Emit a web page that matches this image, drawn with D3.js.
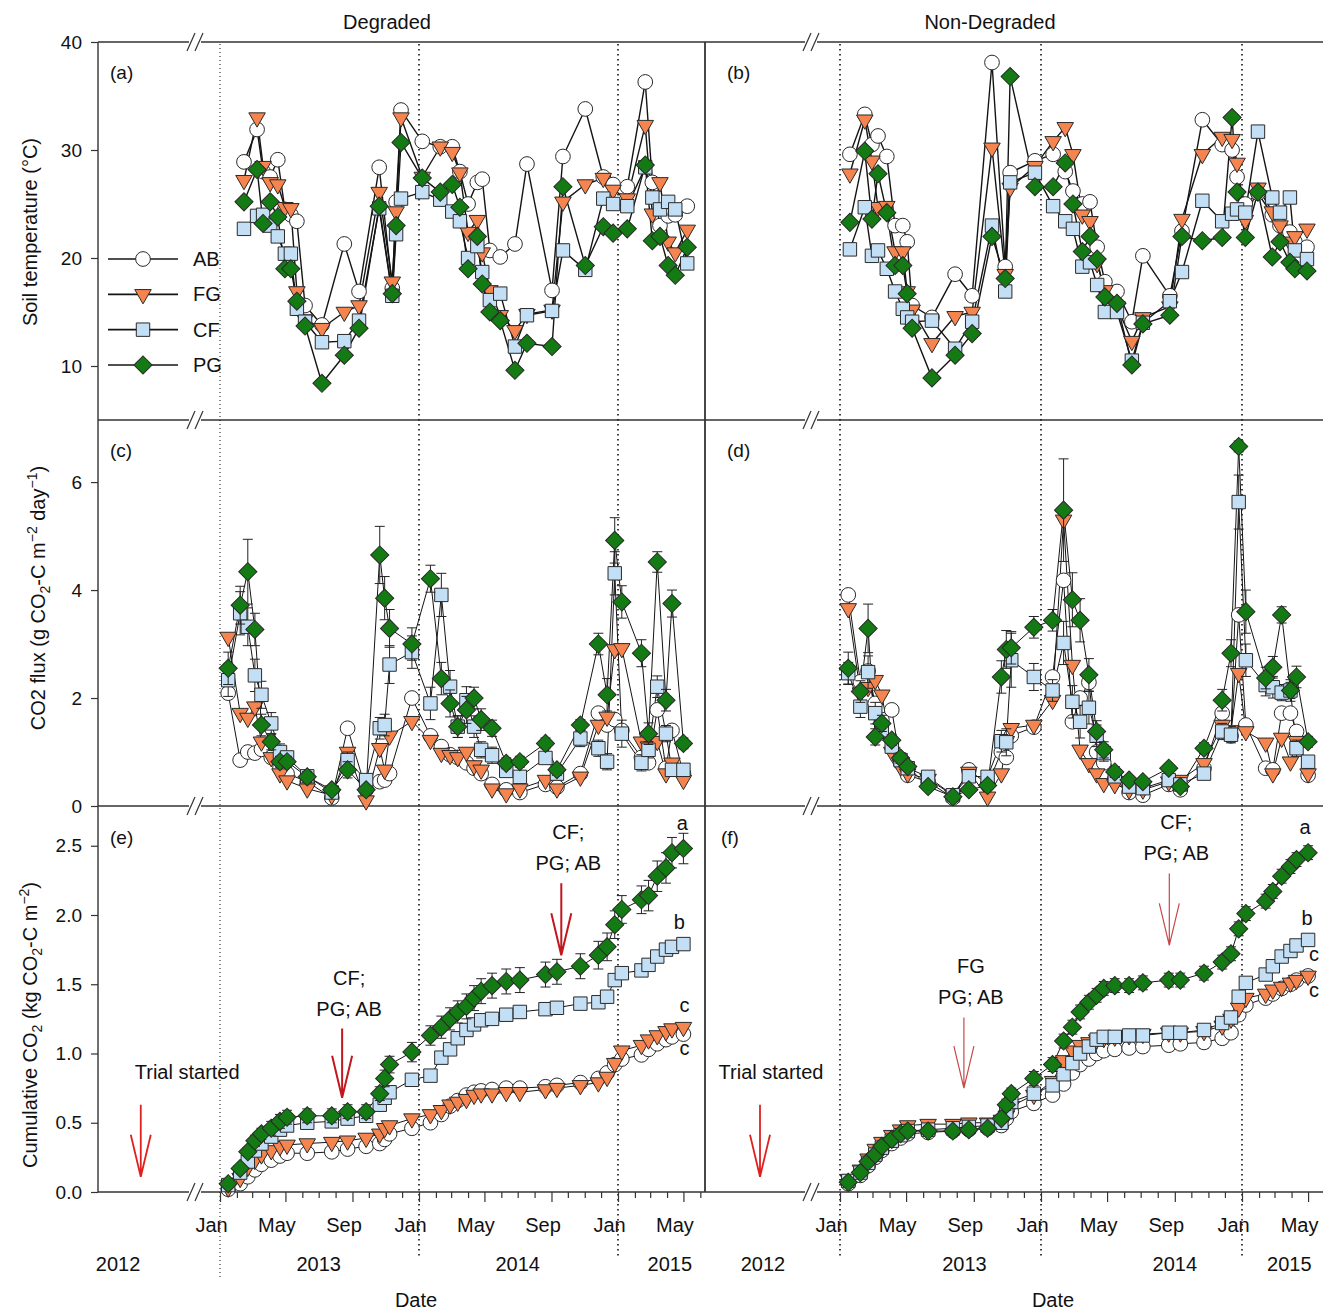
<!DOCTYPE html>
<html>
<head>
<meta charset="utf-8">
<script src="https://cdn.jsdelivr.net/npm/d3@7/dist/d3.min.js"></script>
<style>
html,body{margin:0;padding:0;background:#fff;}
svg text{font-family:"Liberation Sans",Arial,Helvetica,sans-serif;fill:#111;}
</style>
</head>
<body>
<svg id="chart" width="1323" height="1312"></svg>
<script>
// ---------------- DATA ----------------
const treatments = ["AB","FG","CF","PG"];

// Soil temperature sampling dates
const tempDatesDeg = ["2013-02-14","2013-03-10","2013-03-21","2013-04-03","2013-04-17","2013-04-30","2013-05-11","2013-05-22","2013-06-06","2013-07-07","2013-08-17","2013-09-13","2013-10-20","2013-11-13","2013-11-20","2013-11-29","2014-01-07","2014-02-09","2014-03-03","2014-03-17","2014-04-01","2014-04-18","2014-04-27","2014-05-11","2014-05-30","2014-06-26","2014-07-18","2014-09-02","2014-09-22","2014-11-02","2014-12-05","2014-12-23","2015-01-18","2015-02-20","2015-03-05","2015-03-19","2015-04-03","2015-04-16","2015-05-08"];
const tempDatesNon = ["2013-01-19","2013-02-15","2013-02-28","2013-03-11","2013-03-27","2013-04-11","2013-04-25","2013-05-03","2013-05-12","2013-06-17","2013-07-29","2013-08-29","2013-10-04","2013-10-28","2013-11-06","2013-12-21","2014-01-23","2014-02-14","2014-02-28","2014-03-17","2014-03-31","2014-04-13","2014-04-27","2014-05-19","2014-06-15","2014-07-05","2014-08-23","2014-09-14","2014-10-21","2014-11-26","2014-12-14","2014-12-23","2015-01-07","2015-01-30","2015-02-25","2015-03-11","2015-03-29","2015-04-07","2015-04-29"];
// CO2 flux / cumulative sampling dates
const fluxDates = ["2013-01-16","2013-02-07","2013-02-21","2013-03-06","2013-03-18","2013-04-05","2013-04-21","2013-05-04","2013-06-10","2013-07-25","2013-08-23","2013-09-26","2013-10-21","2013-10-30","2013-11-08","2013-12-19","2014-01-22","2014-02-11","2014-02-27","2014-03-13","2014-03-29","2014-04-12","2014-04-25","2014-05-15","2014-06-10","2014-07-05","2014-08-21","2014-09-11","2014-10-24","2014-11-26","2014-12-12","2014-12-26","2015-01-08","2015-02-13","2015-02-26","2015-03-14","2015-03-30","2015-04-10","2015-05-01"];

// (a) Soil temperature, Degraded (°C)
const tempDeg_AB = [28.9,31.9,28.0,27.5,29.1,24.5,24.0,23.4,15.6,13.8,21.3,16.9,28.4,17.2,25.2,33.7,30.8,30.3,30.3,28.0,25.0,27.0,27.3,20.7,20.1,21.3,28.7,17.0,29.4,33.8,27.5,26.8,26.6,36.3,27.0,23.0,23.9,24.0,24.8];
const tempDeg_FG = [27.2,33.0,28.5,27.0,26.8,24.7,24.6,16.9,14.3,13.5,15.0,15.6,26.1,17.8,24.3,33.0,27.5,30.3,29.8,27.9,22.4,23.5,20.5,17.0,14.7,13.3,14.8,15.2,25.2,26.8,27.4,26.3,25.5,32.3,24.1,27.0,21.5,20.5,22.6];
const tempDeg_CF = [22.7,23.9,24.0,23.0,22.0,20.4,20.4,15.3,14.1,12.2,12.3,14.2,24.6,16.5,22.2,25.5,26.1,25.4,24.3,23.4,20.0,21.1,18.7,16.1,16.7,11.8,14.7,15.1,20.7,18.9,25.5,25.0,24.8,28.4,25.6,24.5,25.2,24.5,19.5];
const tempDeg_PG = [25.2,28.2,23.2,25.2,23.8,19.0,19.0,16.0,13.7,8.4,11.0,13.5,24.8,16.7,23.0,30.7,27.4,26.1,26.8,24.7,19.0,22.0,17.6,15.0,14.2,9.6,12.1,11.8,26.6,19.3,22.9,22.3,22.7,28.6,21.6,22.0,19.3,18.4,21.0];

// (b) Soil temperature, Non-Degraded (°C)
const tempNon_AB = [29.6,33.3,30.5,31.3,29.4,23.0,23.0,21.5,15.6,14.5,18.5,16.5,38.1,19.2,27.9,29.0,29.6,28.0,26.2,25.0,25.2,21.0,17.8,16.9,14.1,20.2,16.5,22.5,32.8,30.5,30.0,27.5,25.0,26.0,24.0,23.0,22.4,21.5,21.0];
const tempNon_FG = [27.8,32.8,29.0,24.7,24.8,20.6,20.6,16.9,15.2,12.1,14.6,15.0,30.2,18.5,26.5,28.5,30.8,32.1,29.6,24.0,23.4,19.5,17.0,15.5,12.3,14.5,15.5,23.6,29.6,31.2,31.0,28.8,23.5,26.5,24.3,23.0,21.5,22.0,22.7];
const tempNon_CF = [20.8,24.7,20.2,20.7,19.0,16.9,15.3,14.5,14.1,14.2,11.6,14.1,23.0,16.9,27.0,27.9,24.8,23.4,22.7,19.2,19.6,17.5,15.0,15.0,10.5,14.0,16.0,18.7,25.3,23.4,24.1,24.5,24.2,31.7,25.6,24.2,25.6,20.7,19.9];
const tempNon_PG = [23.3,29.9,23.6,27.8,24.2,19.3,19.3,16.7,13.5,8.9,11.0,13.0,22.0,18.1,36.8,26.6,26.6,28.8,25.0,20.6,22.0,19.9,16.4,15.8,10.1,13.9,14.7,22.0,21.6,21.9,33.0,26.1,21.9,26.1,20.1,21.5,19.6,19.0,18.8];

// (c) CO2 flux, Degraded (g CO2-C m-2 day-1)
const fluxDeg_AB = [2.09,0.85,1.0,0.98,1.05,0.9,0.7,0.6,0.45,0.15,1.44,0.3,0.45,0.48,0.6,2.0,1.3,1.1,0.95,0.9,0.8,0.7,0.6,0.4,0.3,0.25,0.4,0.35,0.6,1.72,1.5,1.6,1.4,0.9,0.8,1.78,0.7,1.4,0.6];
const fluxDeg_FG = [3.13,1.72,1.63,1.84,1.19,0.9,0.6,0.47,0.32,0.2,1.0,0.1,1.07,0.67,1.3,1.57,1.22,0.98,0.94,0.9,1.0,0.75,0.67,0.32,0.23,0.32,0.48,0.32,0.54,1.5,1.65,2.9,2.92,1.19,1.1,1.2,0.6,0.8,0.48];
const fluxDeg_CF = [2.33,3.57,3.32,2.42,2.06,1.53,1.0,0.9,0.55,0.25,0.85,0.48,1.44,1.5,2.62,2.85,1.90,3.91,2.21,1.47,1.96,1.47,1.04,0.94,0.65,0.54,0.89,0.6,1.25,1.07,0.82,4.31,1.34,0.8,1.04,2.21,1.34,0.67,0.67];
const fluxDeg_PG = [2.55,3.72,4.34,3.27,1.50,1.19,0.82,0.82,0.54,0.30,0.67,0.30,4.65,3.85,3.29,3.0,4.21,2.36,1.90,1.47,1.78,2.0,1.60,1.44,0.79,0.82,1.16,0.67,1.50,3.0,2.06,4.92,3.78,2.83,1.34,4.52,1.96,3.75,1.16];
const fluxDegErr_CF = [0.3,0.4,0.35,0.3,0.25,0.2,0.15,0.1,0.1,0.05,0.15,0.1,0.2,0.2,0.35,0.3,0.3,0.4,0.3,0.2,0.25,0.2,0.15,0.15,0.1,0.1,0.1,0.1,0.15,0.15,0.15,0.4,0.25,0.15,0.15,0.2,0.15,0.1,0.1];
const fluxDegErr_PG = [0.3,0.35,0.6,0.3,0.2,0.15,0.1,0.1,0.1,0.05,0.15,0.05,0.53,0.4,0.35,0.3,0.25,0.3,0.25,0.2,0.25,0.2,0.2,0.15,0.1,0.1,0.1,0.1,0.1,0.2,0.3,0.42,0.3,0.25,0.2,0.19,0.2,0.25,0.1];

// (d) CO2 flux, Non-Degraded
const fluxNon_AB = [3.91,2.3,2.5,1.9,1.6,1.78,0.8,0.57,0.45,0.15,0.67,0.4,1.0,0.9,1.3,1.46,2.39,4.18,1.56,2.0,2.29,1.0,0.8,0.5,0.25,0.2,0.4,0.3,0.7,1.72,1.3,3.54,1.5,0.7,0.67,1.72,1.72,1.38,0.57];
const fluxNon_FG = [3.66,2.1,2.2,2.33,2.06,1.0,0.73,0.6,0.5,0.2,0.63,0.17,0.6,1.2,1.44,1.5,1.96,5.3,2.61,1.04,0.79,0.6,0.42,0.4,0.3,0.3,0.45,0.48,0.79,1.5,1.4,2.46,1.38,1.17,0.6,1.26,0.82,1.2,0.6];
const fluxNon_CF = [2.46,1.84,2.48,1.72,1.4,1.1,0.85,0.7,0.54,0.2,0.55,0.54,1.2,1.18,2.70,2.39,2.14,3.02,1.93,1.56,1.82,1.3,0.98,0.55,0.36,0.33,0.48,0.4,0.6,1.38,1.32,5.63,2.70,2.24,2.2,2.1,2.14,1.07,0.82];
const fluxNon_PG = [2.55,2.12,3.29,1.28,1.53,1.22,0.89,0.73,0.36,0.17,0.30,0.38,2.39,2.9,2.93,3.31,3.44,5.48,3.82,3.44,2.43,1.38,1.04,0.63,0.48,0.45,0.70,0.36,1.07,1.96,2.83,6.66,3.60,2.37,2.57,3.54,2.14,2.39,1.19];
const fluxNonErr_CF = [0.2,0.2,0.3,0.2,0.15,0.1,0.1,0.05,0.05,0.03,0.05,0.05,0.2,0.25,0.5,0.25,0.2,0.4,0.3,0.3,0.3,0.2,0.15,0.1,0.05,0.05,0.05,0.05,0.1,0.15,0.15,0.5,0.3,0.2,0.2,0.15,0.15,0.15,0.1];
const fluxNonErr_PG = [0.3,0.2,0.45,0.15,0.15,0.1,0.1,0.05,0.05,0.03,0.05,0.05,0.3,0.35,0.3,0.2,0.2,0.95,0.5,0.4,0.3,0.2,0.15,0.1,0.05,0.05,0.05,0.05,0.1,0.2,0.25,0.1,0.4,0.2,0.2,0.15,0.2,0.2,0.1];

// (e) Cumulative CO2, Degraded (kg CO2-C m-2)
const cumDeg_AB = [0.02,0.06,0.11,0.16,0.20,0.23,0.26,0.28,0.28,0.29,0.31,0.33,0.35,0.38,0.42,0.46,0.50,0.56,0.62,0.66,0.70,0.72,0.73,0.74,0.75,0.75,0.76,0.77,0.79,0.82,0.86,0.92,0.96,0.99,1.03,1.07,1.10,1.12,1.14];
const cumDeg_FG = [0.03,0.10,0.18,0.23,0.27,0.30,0.33,0.34,0.35,0.36,0.37,0.39,0.42,0.46,0.48,0.53,0.56,0.59,0.63,0.65,0.67,0.70,0.71,0.71,0.72,0.72,0.74,0.75,0.77,0.79,0.83,0.93,1.02,1.06,1.10,1.13,1.16,1.18,1.19];
const cumDeg_CF = [0.05,0.14,0.22,0.30,0.35,0.40,0.45,0.48,0.50,0.51,0.53,0.55,0.63,0.68,0.72,0.81,0.84,0.97,1.03,1.11,1.17,1.21,1.24,1.25,1.28,1.30,1.32,1.33,1.36,1.37,1.41,1.53,1.58,1.60,1.64,1.70,1.75,1.77,1.79];
const cumDeg_PG = [0.06,0.17,0.29,0.37,0.42,0.46,0.51,0.54,0.55,0.55,0.58,0.58,0.71,0.82,0.92,1.01,1.13,1.19,1.25,1.30,1.34,1.40,1.45,1.49,1.52,1.53,1.57,1.59,1.63,1.71,1.77,1.93,2.04,2.11,2.14,2.28,2.34,2.45,2.48];
const cumDegErr_CF = [0.01,0.01,0.02,0.02,0.02,0.03,0.03,0.03,0.03,0.03,0.03,0.03,0.03,0.03,0.03,0.03,0.03,0.04,0.04,0.04,0.04,0.04,0.04,0.04,0.04,0.04,0.04,0.04,0.04,0.04,0.04,0.04,0.04,0.04,0.04,0.04,0.04,0.04,0.04];
const cumDegErr_PG = [0.01,0.02,0.03,0.04,0.04,0.05,0.05,0.05,0.05,0.05,0.05,0.05,0.05,0.06,0.06,0.07,0.07,0.08,0.08,0.08,0.09,0.09,0.09,0.09,0.09,0.09,0.09,0.09,0.09,0.10,0.10,0.10,0.10,0.10,0.11,0.11,0.11,0.11,0.11];

// (f) Cumulative CO2, Non-Degraded
const cumNon_AB = [0.06,0.12,0.19,0.25,0.30,0.35,0.39,0.42,0.43,0.44,0.45,0.46,0.48,0.53,0.58,0.64,0.70,0.78,0.86,0.92,0.96,1.00,1.02,1.03,1.04,1.05,1.06,1.07,1.08,1.11,1.15,1.28,1.35,1.40,1.43,1.47,1.50,1.53,1.56];
const cumNon_FG = [0.09,0.16,0.24,0.31,0.36,0.41,0.45,0.48,0.49,0.49,0.50,0.50,0.52,0.55,0.62,0.70,0.80,0.95,1.02,1.06,1.08,1.10,1.11,1.12,1.13,1.14,1.15,1.15,1.16,1.20,1.25,1.33,1.40,1.43,1.46,1.48,1.51,1.53,1.56];
const cumNon_CF = [0.08,0.14,0.21,0.27,0.32,0.37,0.41,0.44,0.45,0.46,0.47,0.48,0.50,0.58,0.65,0.71,0.77,0.85,0.93,1.00,1.05,1.10,1.12,1.12,1.13,1.13,1.15,1.15,1.17,1.22,1.26,1.41,1.51,1.57,1.63,1.70,1.74,1.78,1.82];
const cumNon_PG = [0.07,0.14,0.22,0.27,0.33,0.38,0.42,0.44,0.44,0.44,0.45,0.46,0.53,0.63,0.71,0.82,0.92,1.09,1.19,1.30,1.37,1.42,1.47,1.49,1.49,1.51,1.53,1.53,1.58,1.66,1.72,1.90,2.01,2.10,2.17,2.28,2.35,2.40,2.45];
const cumNonErr_AB = [0.02,0.02,0.02,0.03,0.03,0.03,0.03,0.03,0.03,0.03,0.03,0.03,0.04,0.04,0.04,0.04,0.04,0.04,0.04,0.04,0.04,0.04,0.04,0.04,0.04,0.04,0.04,0.04,0.04,0.04,0.04,0.04,0.04,0.04,0.04,0.04,0.04,0.04,0.04];
const cumNonErr_CF = [0.02,0.02,0.02,0.02,0.03,0.03,0.03,0.03,0.03,0.03,0.03,0.03,0.03,0.03,0.03,0.03,0.03,0.03,0.03,0.03,0.03,0.03,0.03,0.03,0.03,0.03,0.03,0.03,0.03,0.03,0.03,0.03,0.03,0.03,0.03,0.03,0.03,0.03,0.03];
const cumNonErr_PG = [0.02,0.02,0.02,0.03,0.03,0.03,0.03,0.03,0.03,0.03,0.03,0.03,0.03,0.04,0.04,0.05,0.05,0.05,0.05,0.05,0.05,0.05,0.05,0.05,0.05,0.05,0.05,0.05,0.05,0.05,0.05,0.05,0.05,0.05,0.05,0.05,0.05,0.05,0.05];

// Significance letters (end of cumulative curves): AB, FG, CF, PG
const sigLetters = ["c","c","b","a"];

// Axis tick values
const tempTicks = [10,20,30,40];
const fluxTicks = [0,2,4,6];
const cumTicks = [0,0.5,1.0,1.5,2.0,2.5];
const yearLabels = ["2012","2013","2014","2015"];
const yearLabelDatesDeg = ["2013-07-01","2014-07-01","2015-04-06"];
const yearLabelDatesNon = ["2013-08-15","2014-09-01","2015-03-28"];

// Annotations (arrows with ranking text)
const annotDeg = [
  {date:"2013-08-13", top:1.18, tip:0.68, lines:["CF;","PG; AB"]},
  {date:"2014-09-19", top:2.23, tip:1.71, lines:["CF;","PG; AB"]}
];
const annotNon = [
  {date:"2013-08-14", top:1.26, tip:0.75, lines:["FG","PG; AB"]},
  {date:"2014-08-22", top:2.30, tip:1.78, lines:["CF;","PG; AB"]}
];

// ---------------- CHART ----------------
const parse = d3.timeParse("%Y-%m-%d");
const svg = d3.select("#chart");
svg.append("rect").attr("width",1323).attr("height",1312).attr("fill","#fff");

const yTemp = d3.scaleLinear().domain([5,40]).range([420,42]);
const yFlux = d3.scaleLinear().domain([0,7.15]).range([806,420]);
const yCum  = d3.scaleLinear().domain([0,2.787]).range([1192,806]);
const rowLines = [42,420,806,1192];

const sym = {
  AB:{gen:d3.symbol(d3.symbolCircle,170)(), rot:0, fill:"#ffffff"},
  FG:{gen:d3.symbol(d3.symbolTriangle,118)(), rot:180, fill:"#F5844F"},
  CF:{gen:d3.symbol(d3.symbolSquare,180)(), rot:0, fill:"#C3DFF5"},
  PG:{gen:d3.symbol(d3.symbolSquare,165)(), rot:45, fill:"#137A14"}
};

const cols = [
  {id:"D", title:"Degraded", titleX:387, x0:98, x1:705, brk:[189,201],
   x:d3.scaleTime().domain([new Date(2013,0,1),new Date(2015,0,1)]).range([220,618]),
   pre:d3.scaleLinear().domain([0,1]).range([98,189]),
   trialArrow:0.47, trialText:0.98, year2012:0.22,
   labels:["(a)","(c)","(e)"], labelX:110, dateX:416,
   temp:{dates:tempDatesDeg, data:{AB:tempDeg_AB,FG:tempDeg_FG,CF:tempDeg_CF,PG:tempDeg_PG}},
   flux:{data:{AB:fluxDeg_AB,FG:fluxDeg_FG,CF:fluxDeg_CF,PG:fluxDeg_PG}, err:{CF:fluxDegErr_CF,PG:fluxDegErr_PG}},
   cum:{data:{AB:cumDeg_AB,FG:cumDeg_FG,CF:cumDeg_CF,PG:cumDeg_PG}, err:{CF:cumDegErr_CF,PG:cumDegErr_PG}},
   annot:annotDeg, annotColor:"#C0181E", annotW:2, years:yearLabelDatesDeg},
  {id:"N", title:"Non-Degraded", titleX:990, x0:705, x1:1323, brk:[805,817],
   x:d3.scaleTime().domain([new Date(2013,0,1),new Date(2015,0,1)]).range([840,1242]),
   pre:d3.scaleLinear().domain([0,1]).range([705,805]),
   trialArrow:0.55, trialText:0.66, year2012:0.58,
   labels:["(b)","(d)","(f)"], labelX:727, dateX:1053,
   temp:{dates:tempDatesNon, data:{AB:tempNon_AB,FG:tempNon_FG,CF:tempNon_CF,PG:tempNon_PG}},
   flux:{data:{AB:fluxNon_AB,FG:fluxNon_FG,CF:fluxNon_CF,PG:fluxNon_PG}, err:{CF:fluxNonErr_CF,PG:fluxNonErr_PG}},
   cum:{data:{AB:cumNon_AB,FG:cumNon_FG,CF:cumNon_CF,PG:cumNon_PG}, err:{AB:cumNonErr_AB,CF:cumNonErr_CF,PG:cumNonErr_PG}},
   annot:annotNon, annotColor:"#C8484A", annotW:1.2, years:yearLabelDatesNon}
];

const frame = svg.append("g");
const dots = svg.append("g");
const marks = svg.append("g");
const texts = svg.append("g");

function drawPanel(c, y, dates, data, errs, lw) {
  const g = marks.append("g");
  const pts = {};
  treatments.forEach(t => {
    pts[t] = dates.map((d,i)=>({d:parse(d), v:data[t][i], e:(errs && errs[t]) ? errs[t][i] : 0}))
                  .filter(p => p.v != null);
  });
  const line = d3.line().x(p=>c.x(p.d)).y(p=>y(p.v));
  treatments.forEach(t => {
    g.append("path").attr("d", line(pts[t])).attr("fill","none")
      .attr("stroke","#141414").attr("stroke-width",lw).attr("stroke-linejoin","round");
  });
  treatments.forEach(t => {
    const sg = g.append("g");
    sg.selectAll("path.eb").data(pts[t].filter(p=>p.e>0)).join("path").attr("class","eb")
      .attr("d", p => {
        const xx = c.x(p.d), yt = y(p.v+p.e), yb = y(Math.max(0,p.v-p.e));
        return `M${xx-5},${yt}H${xx+5}M${xx},${yt}V${yb}M${xx-5},${yb}H${xx+5}`;
      })
      .attr("fill","none").attr("stroke","#222").attr("stroke-width",1);
    sg.selectAll("path.m").data(pts[t]).join("path").attr("class","m")
      .attr("d", sym[t].gen)
      .attr("transform", p => `translate(${c.x(p.d)},${y(p.v)}) rotate(${sym[t].rot})`)
      .attr("fill", sym[t].fill).attr("stroke","#2a2a2a").attr("stroke-width",1);
  });
  return pts;
}

cols.forEach((c, ci) => {
  // frame horizontal lines with break marks
  rowLines.forEach(yy => {
    frame.append("line").attr("x1",c.x0).attr("x2",c.brk[0]).attr("y1",yy).attr("y2",yy)
      .attr("stroke","#333").attr("stroke-width",1.4);
    frame.append("line").attr("x1",c.brk[1]).attr("x2",c.x1).attr("y1",yy).attr("y2",yy)
      .attr("stroke","#333").attr("stroke-width",1.4);
    [c.brk[0]+2, c.brk[1]-2].forEach(bx => {
      frame.append("line").attr("x1",bx-4).attr("y1",yy+9).attr("x2",bx+4).attr("y2",yy-9)
        .attr("stroke","#333").attr("stroke-width",1.2);
    });
  });
  frame.append("line").attr("x1",c.x0).attr("x2",c.x0).attr("y1",42).attr("y2",1192)
    .attr("stroke","#333").attr("stroke-width",ci===0?1.4:1.8);

  // dotted year lines
  [new Date(2013,0,1), new Date(2014,0,1), new Date(2015,0,1)].forEach((d,i) => {
    const first = (ci===0 && i===0);
    dots.append("line").attr("x1",c.x(d)).attr("x2",c.x(d)).attr("y1",44)
      .attr("y2", first ? 1280 : 1256)
      .attr("stroke", "#111").attr("stroke-width", first?1:1.6)
      .attr("stroke-dasharray", first ? "1,3" : "1.6,3.4");
  });

  // panels
  drawPanel(c, yTemp, c.temp.dates, c.temp.data, null, 1.4);
  drawPanel(c, yFlux, fluxDates, c.flux.data, c.flux.err, 1);
  const cp = drawPanel(c, yCum, fluxDates, c.cum.data, c.cum.err, 1);

  // significance letters
  const offs = {AB:14, FG:-22, CF:-22, PG:-26};
  const dxs  = ci===0 ? {AB:1,FG:1,CF:-4,PG:-1} : {AB:6,FG:6,CF:-1,PG:-3};
  treatments.forEach((t,ti) => {
    const last = cp[t][cp[t].length-1];
    texts.append("text").attr("x", c.x(last.d)+dxs[t]).attr("y", yCum(last.v)+offs[t]+7)
      .attr("text-anchor","middle").attr("font-size",20).text(sigLetters[ti]);
  });

  // panel labels
  [79,457,844].forEach((yy,i) => {
    texts.append("text").attr("x", c.labelX - (ci===1 && i===2 ? 6 : 0)).attr("y",yy)
      .attr("font-size",19).text(c.labels[i]);
  });

  // title
  texts.append("text").attr("x",c.titleX).attr("y",29).attr("text-anchor","middle")
    .attr("font-size",20).text(c.title);

  // x axis (minor monthly + major every 4 months)
  const months = d3.timeMonth.range(new Date(2013,0,1), new Date(2015,5,2));
  const minor = months.filter(m => m.getMonth()%4 !== 0);
  const major = months.filter(m => m.getMonth()%4 === 0);
  const axMinor = svg.append("g").attr("transform","translate(0,1192)")
    .call(d3.axisBottom(c.x).tickValues(minor).tickSize(6).tickFormat(""));
  const axMajor = svg.append("g").attr("transform","translate(0,1192)")
    .call(d3.axisBottom(c.x).tickValues(major).tickSize(10).tickPadding(16).tickFormat(d3.timeFormat("%b")));
  [axMinor, axMajor].forEach(a => {
    a.select(".domain").remove();
    a.selectAll(".tick line").attr("stroke","#333").attr("stroke-width",1.2);
  });
  axMajor.selectAll(".tick text").attr("x",-9).attr("font-size",20)
    .attr("font-family",'"Liberation Sans",Arial,sans-serif').attr("fill","#111");

  // year labels
  texts.append("text").attr("x", c.pre(c.year2012)).attr("y",1271).attr("text-anchor","middle")
    .attr("font-size",20).text(yearLabels[0]);
  c.years.forEach((d,i) => {
    texts.append("text").attr("x", c.x(parse(d))).attr("y",1271).attr("text-anchor","middle")
      .attr("font-size",20).text(yearLabels[i+1]);
  });
  texts.append("text").attr("x",c.dateX).attr("y",1307).attr("text-anchor","middle")
    .attr("font-size",20).text("Date");

  // Trial started
  const tx = c.pre(c.trialArrow);
  drawArrow(tx, yCum(0.63), yCum(0.11), "#E0201E", 1.8);
  texts.append("text").attr("x", c.pre(c.trialText)).attr("y",1079).attr("text-anchor","middle")
    .attr("font-size",20).text("Trial started");

  // ranking annotations
  c.annot.forEach(a => {
    const ax = c.x(parse(a.date));
    const yt = yCum(a.top);
    drawArrow(ax, yt, yCum(a.tip), c.annotColor, c.annotW);
    texts.append("text").attr("x", ax+7).attr("y", yt-44).attr("text-anchor","middle")
      .attr("font-size",20).text(a.lines[0]);
    texts.append("text").attr("x", ax+7).attr("y", yt-13).attr("text-anchor","middle")
      .attr("font-size",20).text(a.lines[1]);
  });
});

function drawArrow(x, yTop, yTip, color, w) {
  texts.append("path")
    .attr("d", `M${x},${yTop}V${yTip}M${x-10},${yTip-42}L${x},${yTip}L${x+10},${yTip-42}`)
    .attr("fill","none").attr("stroke",color).attr("stroke-width",w);
}

// y axes on the left column
function yAxis(scale, ticks, fmt) {
  const a = svg.append("g").attr("transform","translate(98,0)")
    .call(d3.axisLeft(scale).tickValues(ticks).tickSize(7).tickPadding(9).tickFormat(fmt));
  a.select(".domain").remove();
  a.selectAll(".tick line").attr("stroke","#333").attr("stroke-width",1.2);
  a.selectAll(".tick text").attr("font-size",19)
    .attr("font-family",'"Liberation Sans",Arial,sans-serif').attr("fill","#111");
}
yAxis(yTemp, tempTicks, d3.format("d"));
yAxis(yFlux, fluxTicks, d3.format("d"));
yAxis(yCum, cumTicks, d3.format(".1f"));

// y axis titles
function yTitle(x, y, parts) {
  const t = texts.append("text").attr("transform",`translate(${x},${y}) rotate(-90)`)
    .attr("text-anchor","middle").attr("font-size",20);
  parts.forEach(p => {
    const s = t.append("tspan").text(p.t);
    if (p.sub) s.attr("font-size",14).attr("dy",5);
    if (p.sup) s.attr("font-size",14).attr("dy",-8);
    if (p.back) s.attr("dy",p.back);
  });
}
yTitle(37, 232, [{t:"Soil temperature (°C)"}]);
yTitle(45, 598, [{t:"CO2 flux (g CO"},{t:"2",sub:1},{t:"-C m",back:-5},{t:"−2",sup:1},{t:" day",back:8},{t:"−1",sup:1},{t:")",back:8}]);
yTitle(37, 1025, [{t:"Cumulative CO"},{t:"2",sub:1},{t:" (kg CO",back:-5},{t:"2",sub:1},{t:"-C m",back:-5},{t:"−2",sup:1},{t:")",back:8}]);

// legend in panel (a)
const legY = d3.scalePoint().domain(treatments).range([259,365]);
treatments.forEach(t => {
  const yy = legY(t);
  texts.append("line").attr("x1",108).attr("x2",178).attr("y1",yy).attr("y2",yy)
    .attr("stroke","#141414").attr("stroke-width",1.6);
  texts.append("path").attr("d",sym[t].gen)
    .attr("transform",`translate(143,${yy}) rotate(${sym[t].rot})`)
    .attr("fill",sym[t].fill).attr("stroke","#2a2a2a").attr("stroke-width",1);
  texts.append("text").attr("x",193).attr("y",yy+7).attr("font-size",20).text(t);
});
</script>
</body>
</html>
